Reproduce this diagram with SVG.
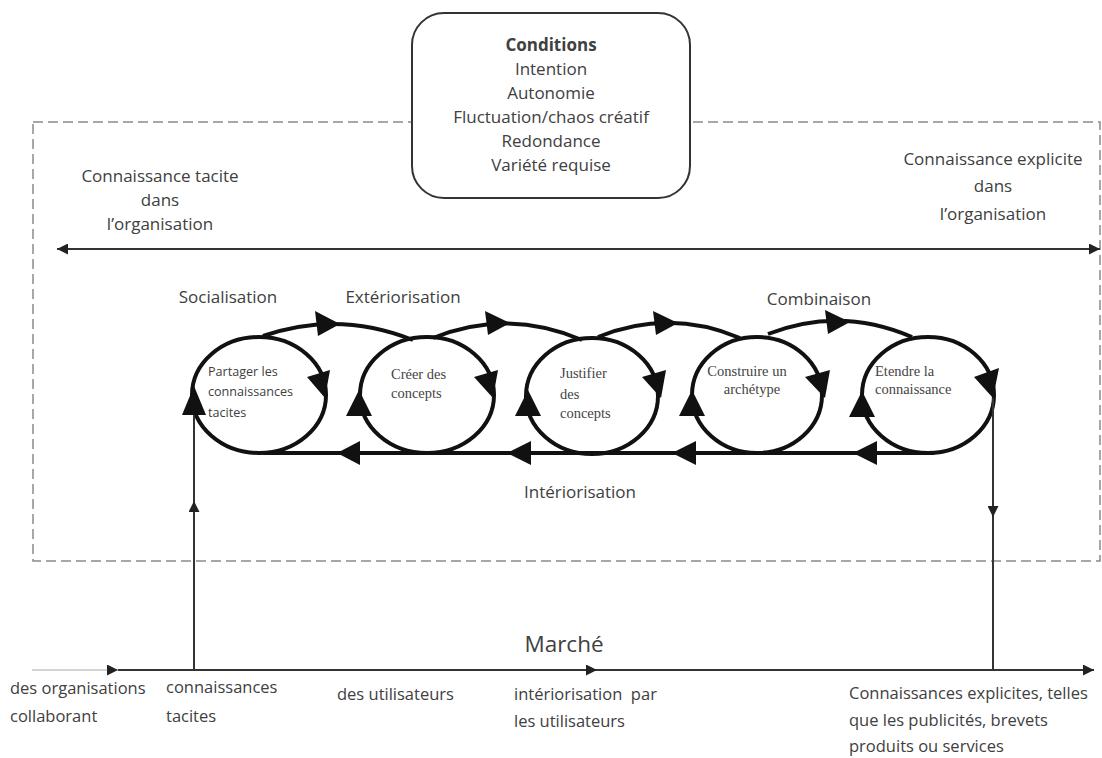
<svg xmlns="http://www.w3.org/2000/svg" width="1102" height="758" viewBox="0 0 1102 758">
<style>
text{font-family:"Open Sans","Liberation Sans",sans-serif;fill:#404040}
.lbl{font-size:17px}
.bot{font-size:16.5px}
.ser{font-family:"Liberation Serif","Times New Roman",serif;font-size:14.5px;fill:#444}
.sm{font-size:12.6px}
.ring{fill:none;stroke:#111;stroke-width:4}
.arc{fill:none;stroke:#111;stroke-width:4}
.head{fill:#111}
.thin{fill:none;stroke:#333;stroke-width:2}
.dash{fill:none;stroke:#8a8a8a;stroke-width:1.5;stroke-dasharray:10 5}
</style>
<defs>
<marker id="ah" viewBox="0 0 10 10" refX="10" refY="5" markerUnits="userSpaceOnUse" markerWidth="13" markerHeight="11" orient="auto-start-reverse">
<path d="M0,0 L10,5 L0,10 z" fill="#222"/>
</marker>
</defs>
<rect width="1102" height="758" fill="#fff"/>
<g id="organisation-frame">
<rect class="dash" x="33" y="122" width="1067" height="439"/>
</g>
<g id="conditions">
<rect x="412" y="13" width="278" height="185" rx="32" fill="#fff" stroke="#333" stroke-width="2"/>
<text x="551" y="51" text-anchor="middle" class="lbl" font-weight="bold" fill="#2a2a2a">Conditions</text>
<text x="551" y="75" text-anchor="middle" class="lbl">Intention</text>
<text x="551" y="99" text-anchor="middle" class="lbl">Autonomie</text>
<text x="551" y="123" text-anchor="middle" class="lbl">Fluctuation/chaos créatif</text>
<text x="551" y="147" text-anchor="middle" class="lbl">Redondance</text>
<text x="551" y="171" text-anchor="middle" class="lbl">Variété requise</text>
</g>
<g id="tacit-label">
<text x="160" y="182" text-anchor="middle" class="lbl">Connaissance tacite</text>
<text x="160" y="206" text-anchor="middle" class="lbl">dans</text>
<text x="160" y="230" text-anchor="middle" class="lbl">l’organisation</text>
</g>
<g id="explicit-label">
<text x="993" y="165" text-anchor="middle" class="lbl">Connaissance explicite</text>
<text x="993" y="192" text-anchor="middle" class="lbl">dans</text>
<text x="993" y="220" text-anchor="middle" class="lbl">l’organisation</text>
</g>
<g id="phase-labels">
<text x="228" y="303" text-anchor="middle" class="lbl">Socialisation</text>
<text x="403" y="303" text-anchor="middle" class="lbl">Extériorisation</text>
<text x="819" y="305" text-anchor="middle" class="lbl">Combinaison</text>
<text x="580" y="498" text-anchor="middle" class="lbl">Intériorisation</text>
</g>
<g id="n1">
<ellipse class="ring" cx="259" cy="395" rx="67" ry="58"/>
<text x="208" y="376" class="sm">Partager les</text>
<text x="208" y="396" class="sm">connaissances</text>
<text x="208" y="417" class="sm">tacites</text>
</g>
<g id="n2">
<ellipse class="ring" cx="427" cy="395" rx="67" ry="58"/>
<text x="391" y="379" class="ser">Créer des</text>
<text x="391" y="398" class="ser">concepts</text>
</g>
<g id="n3">
<ellipse class="ring" cx="592" cy="396" rx="66" ry="58"/>
<text x="560" y="378" class="ser">Justifier</text>
<text x="560" y="399" class="ser">des</text>
<text x="560" y="418" class="ser">concepts</text>
</g>
<g id="n4">
<ellipse class="ring" cx="757" cy="395" rx="65" ry="58"/>
<text x="747" y="376" text-anchor="middle" class="ser">Construire un</text>
<text x="752" y="394" text-anchor="middle" class="ser">archétype</text>
</g>
<g id="n5">
<ellipse class="ring" cx="928" cy="395" rx="66" ry="58"/>
<text x="875" y="376" class="ser">Etendre la</text>
<text x="875" y="394" class="ser">connaissance</text>
</g>
<g id="connectors">
<line class="thin" x1="57" y1="249" x2="1100" y2="249" marker-start="url(#ah)" marker-end="url(#ah)"/>
<path class="arc" d="M263 336 Q338 310 413 340"/>
<path class="arc" d="M433 338 Q507 308 582 340"/>
<path class="arc" d="M598 337 Q669 308 740 338"/>
<path class="arc" d="M768 334 Q840 306 912 337"/>
<polygon class="head" points="315,311 340,324 318,336"/>
<polygon class="head" points="485,311 510,323 488,335"/>
<polygon class="head" points="653,311 678,323 656,335"/>
<polygon class="head" points="825,310 850,322 828,334"/>
<polygon class="head" points="307,377 330,370 325,398"/>
<polygon class="head" points="474,377 498,370 493,398"/>
<polygon class="head" points="642,377 666,370 661,398"/>
<polygon class="head" points="805,377 830,370 825,398"/>
<polygon class="head" points="974,377 999,368 993,398"/>
<polygon class="head" points="182,415 206,415 194,386"/>
<polygon class="head" points="346,416 372,416 359,390"/>
<polygon class="head" points="515,416 541,416 528,390"/>
<polygon class="head" points="679,416 705,416 692,390"/>
<polygon class="head" points="849,417 875,417 862,391"/>
<line x1="263" y1="453" x2="934" y2="453" stroke="#111" stroke-width="4"/>
<polygon class="head" points="337,453 360,441 360,465"/>
<polygon class="head" points="507,453 531,441 531,465"/>
<polygon class="head" points="672,453 696,441 696,465"/>
<polygon class="head" points="853,453 877,441 877,465"/>
<line x1="32" y1="670" x2="118" y2="670" stroke="#aaa" stroke-width="1.2" marker-end="url(#ah)"/>
<path class="thin" d="M118 670 L597 670 L1094 670" marker-mid="url(#ah)" marker-end="url(#ah)"/>
<path class="thin" d="M194 670 L194 501 L194 415" marker-mid="url(#ah)"/>
<path class="thin" d="M993 398 L993 517 L993 670" marker-mid="url(#ah)"/>
</g>
<g id="market">
<text x="564" y="652" text-anchor="middle" font-size="22.5">Marché</text>
<text x="10" y="694" class="bot">des organisations</text>
<text x="10" y="722" class="bot">collaborant</text>
<text x="166" y="693" class="bot">connaissances</text>
<text x="166" y="722" class="bot">tacites</text>
<text x="337" y="700" class="bot">des utilisateurs</text>
<text x="514" y="700" class="bot" xml:space="preserve">intériorisation  par</text>
<text x="514" y="727" class="bot">les utilisateurs</text>
<text x="849" y="699" class="bot">Connaissances explicites, telles</text>
<text x="849" y="726" class="bot">que les publicités, brevets</text>
<text x="849" y="752" class="bot">produits ou services</text>
</g>
</svg>
